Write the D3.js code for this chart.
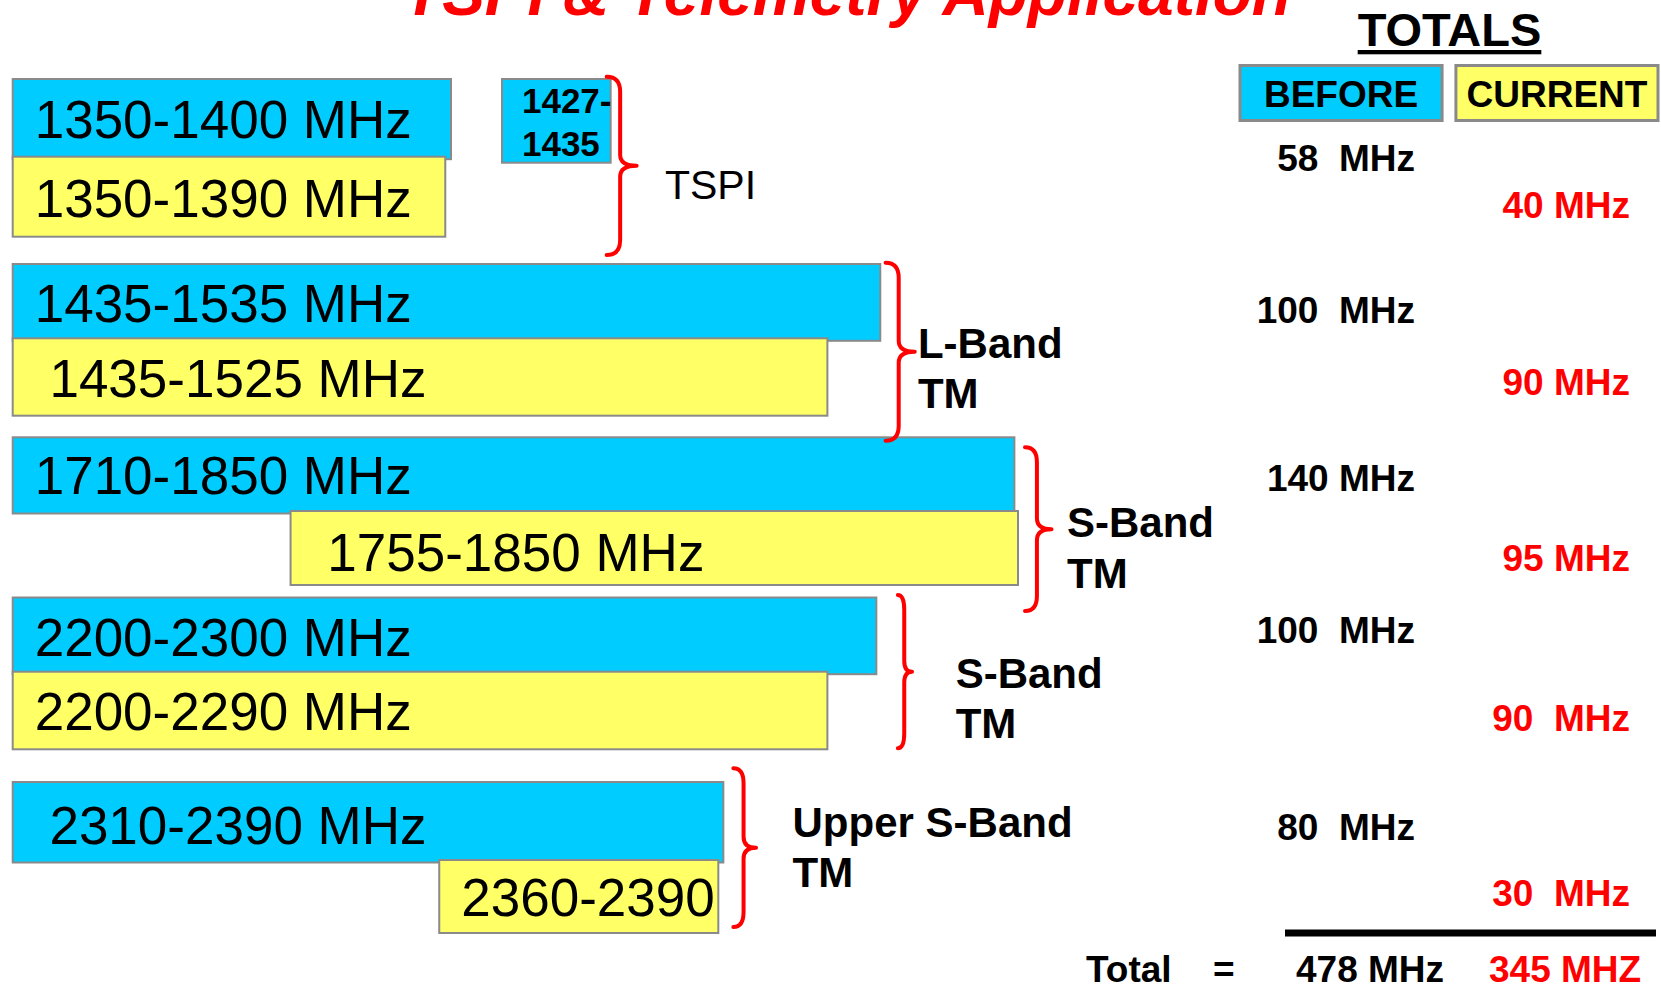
<!DOCTYPE html>
<html>
<head>
<meta charset="utf-8">
<script src="https://cdn.jsdelivr.net/npm/d3@7/dist/d3.min.js"></script>
<style>
  html, body { margin: 0; padding: 0; background: #ffffff; }
  svg { display: block; }
  text { white-space: pre; font-family: "Liberation Sans", Arial, sans-serif; }
</style>
</head>
<body>
<script>
// ---------------- DATA ----------------
const title = "TSPI & Telemetry Application";
const groupNames = [["TSPI"], ["L-Band", "TM"], ["S-Band", "TM"], ["S-Band", "TM"], ["Upper S-Band", "TM"]];

// Before allocations (blue bars), extents in relative slide units (0-100)
const beforeLabels = ["1350-1400 MHz", "1435-1535 MHz", "1710-1850 MHz", "2200-2300 MHz", " 2310-2390 MHz"];
const beforeStart = [0, 0, 0, 0, 0];
const beforeEnd = [43.6, 86.3, 99.64, 85.91, 70.69];

// Extra before band in TSPI group
const extraGroup = [0];
const extraLabels = [["1427-", "1435"]];
const extraStart = [48.67];
const extraEnd = [59.48];

// Current allocations (yellow bars)
const currentLabels = ["1350-1390 MHz", " 1435-1525 MHz", " 1755-1850 MHz", "2200-2290 MHz", "2360-2390"];
const currentStart = [0, 0, 27.64, 0, 42.43];
const currentEnd = [43.03, 81.04, 100, 81.04, 70.19];

// Totals (MHz)
const beforeTotals = [58, 100, 140, 100, 80];
const currentTotals = [40, 90, 95, 90, 30];
const beforeSep = ["  ", "  ", " ", "  ", "  "];
const currentSep = [" ", " ", " ", "  ", "  "];
const legendLabels = ["BEFORE", "CURRENT"];

// ---------------- STYLE / LAYOUT ----------------
const W = 1661, H = 990;
const BLUE = "#00ccff", YELLOW = "#ffff66", RED = "#ff0000", GRAY = "#8a8a8a";

const layout = {
  braceGap: [-4, 5.3, 7, 21.5, 10],
  braceWidth: [30, 29.2, 26.5, 14.2, 22.7],
  braceTopDy: [-2.3, -1.3, 10, -2.5, -13.7],
  braceBotDy: [18.3, 25, 26, -1, -6],
  labelDx: [28.3, 3.2, 15.5, 43.6, 36.5],
  labelDy: [33.3, 6, 8, 16, -10.7],
  labelBold: [false, true, true, true, true],
  labelSize: [41, 42, 42, 42, 42],
  beforeDy: [91.7, 58.7, 53.4, 45.8, 58],
  currentDy: [61.6, 56.7, 59.7, 59, 46],
  beforeTextDy: [20, 21, 20, 21, 23],
  currentTextDy: [20, 20, 23, 19, 19]
};

const svg = d3.select("body").append("svg")
  .attr("width", W).attr("height", H)
  .attr("xml:space", "preserve");

svg.append("rect").attr("width", W).attr("height", H).attr("fill", "#fff");

// scales
const x = d3.scaleLinear().domain([0, 100]).range([12.7, 1018]);
const rowEdges = [79, 156.7, 236.7, 264, 338.3, 415.7, 437.3, 511, 585, 597.5, 671.7, 749.3, 782, 860, 933];
const y = d3.scaleLinear().domain(d3.range(rowEdges.length)).range(rowEdges);

// Title
svg.append("text")
  .attr("x", 847).attr("y", 15)
  .attr("text-anchor", "middle")
  .attr("font-size", 64).attr("font-weight", "bold").attr("font-style", "italic")
  .attr("fill", RED)
  .text(title);

const groupIdx = d3.range(groupNames.length);

// Bars
const gBars = svg.append("g");
groupIdx.forEach(g => {
  const y0 = y(3 * g), y1 = y(3 * g + 1), y2 = y(3 * g + 2);
  gBars.append("rect")
    .attr("x", x(beforeStart[g])).attr("y", y0)
    .attr("width", x(beforeEnd[g]) - x(beforeStart[g]))
    .attr("height", y1 - y0 + 2.5)
    .attr("fill", BLUE).attr("stroke", GRAY).attr("stroke-width", 2);
  gBars.append("text")
    .attr("x", x(beforeStart[g]) + 22).attr("y", (y0 + y1) / 2 + layout.beforeTextDy[g])
    .attr("font-size", 53).attr("fill", "#000")
    .text(beforeLabels[g]);

  gBars.append("rect")
    .attr("x", x(currentStart[g])).attr("y", y1)
    .attr("width", x(currentEnd[g]) - x(currentStart[g]))
    .attr("height", y2 - y1)
    .attr("fill", YELLOW).attr("stroke", GRAY).attr("stroke-width", 2);
  gBars.append("text")
    .attr("x", x(currentStart[g]) + 22).attr("y", (y1 + y2) / 2 + layout.currentTextDy[g])
    .attr("font-size", 53).attr("fill", "#000")
    .text(currentLabels[g]);
});

// Extra before band box
extraGroup.forEach((g, i) => {
  const y0 = y(3 * g), y1 = y(3 * g + 1);
  gBars.append("rect")
    .attr("x", x(extraStart[i])).attr("y", y0)
    .attr("width", x(extraEnd[i]) - x(extraStart[i]))
    .attr("height", y1 - y0 + 6)
    .attr("fill", BLUE).attr("stroke", GRAY).attr("stroke-width", 2);
  extraLabels[i].forEach((t, j) => {
    gBars.append("text")
      .attr("x", x(extraStart[i]) + 20).attr("y", y0 + 34.3 + j * 42.4)
      .attr("font-size", 35).attr("font-weight", "bold").attr("fill", "#000")
      .text(t);
  });
});

// Braces + group labels
function bracePath(xl, xt, top, bot) {
  const xs = xl + (xt - xl) * 0.45;
  const mid = (top + bot) / 2;
  const rE = 15, rT = 11;
  return `M${xl},${top} Q${xs},${top} ${xs},${top + rE} L${xs},${mid - rT} Q${xs},${mid} ${xt},${mid} ` +
         `Q${xs},${mid} ${xs},${mid + rT} L${xs},${bot - rE} Q${xs},${bot} ${xl},${bot}`;
}
groupIdx.forEach(g => {
  let maxEnd = Math.max(beforeEnd[g], currentEnd[g]);
  extraGroup.forEach((eg, i) => { if (eg === g) maxEnd = Math.max(maxEnd, extraEnd[i]); });
  const xl = x(maxEnd) + layout.braceGap[g];
  const xt = xl + layout.braceWidth[g];
  const top = y(3 * g) + layout.braceTopDy[g];
  const bot = y(3 * g + 2) + layout.braceBotDy[g];
  svg.append("path")
    .attr("d", bracePath(xl, xt, top, bot))
    .attr("fill", "none").attr("stroke", RED).attr("stroke-width", 4)
    .attr("stroke-linecap", "round").attr("stroke-linejoin", "round");
  const tipY = (top + bot) / 2;
  groupNames[g].forEach((t, j) => {
    svg.append("text")
      .attr("x", xt + layout.labelDx[g])
      .attr("y", tipY + layout.labelDy[g] + j * 50.5)
      .attr("font-size", layout.labelSize[g])
      .attr("font-weight", layout.labelBold[g] ? "bold" : "normal")
      .attr("fill", "#000")
      .text(t);
  });
});

// Totals header
const totalsText = svg.append("text")
  .attr("x", 1449.5).attr("y", 45.7)
  .attr("text-anchor", "middle")
  .attr("font-size", 47).attr("font-weight", "bold").attr("fill", "#000")
  .text("TOTALS");
const tb = totalsText.node().getBBox();
svg.append("rect")
  .attr("x", tb.x).attr("y", 50).attr("width", tb.width).attr("height", 4.3)
  .attr("fill", "#000");

// Legend boxes
const legendX = d3.scaleBand().domain(legendLabels).range([1240, 1658]).paddingInner(0.064);
const legendFill = [BLUE, YELLOW];
legendLabels.forEach((l, i) => {
  svg.append("rect")
    .attr("x", legendX(l)).attr("y", 65.5)
    .attr("width", legendX.bandwidth()).attr("height", 55)
    .attr("fill", legendFill[i]).attr("stroke", GRAY).attr("stroke-width", 3);
  svg.append("text")
    .attr("x", legendX(l) + legendX.bandwidth() / 2).attr("y", 107.3)
    .attr("text-anchor", "middle")
    .attr("font-size", 37).attr("font-weight", "bold").attr("fill", "#000")
    .text(l);
});

// Group totals
groupIdx.forEach(g => {
  svg.append("text")
    .attr("x", 1415).attr("y", y(3 * g) + layout.beforeDy[g])
    .attr("text-anchor", "end")
    .attr("font-size", 37).attr("font-weight", "bold").attr("fill", "#000")
    .text(beforeTotals[g] + beforeSep[g] + "MHz");
  svg.append("text")
    .attr("x", 1630).attr("y", y(3 * g + 1) + layout.currentDy[g])
    .attr("text-anchor", "end")
    .attr("font-size", 37).attr("font-weight", "bold").attr("fill", RED)
    .text(currentTotals[g] + currentSep[g] + "MHz");
});

// Sum line and totals row
svg.append("rect").attr("x", 1285).attr("y", 929.5).attr("width", 371).attr("height", 7).attr("fill", "#000");
const sumBefore = d3.sum(beforeTotals), sumCurrent = d3.sum(currentTotals);
const totalRow = [
  { t: "Total", x: 1086, c: "#000" },
  { t: "=", x: 1213, c: "#000" },
  { t: sumBefore + " MHz", x: 1296, c: "#000" },
  { t: sumCurrent + " MHZ", x: 1489, c: RED }
];
totalRow.forEach(d => {
  svg.append("text")
    .attr("x", d.x).attr("y", 982)
    .attr("font-size", 37).attr("font-weight", "bold").attr("fill", d.c)
    .text(d.t);
});
</script>
</body>
</html>
